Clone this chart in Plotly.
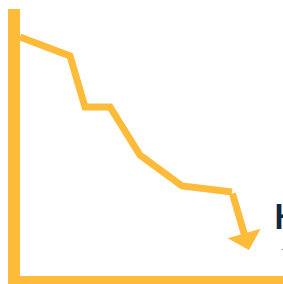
import plotly.graph_objects as go

# Data (chart units: x to the right, y upwards)
x_vals = [20, 70, 85, 110, 140, 182, 232]
y_vals = [247, 228, 177, 177, 129, 98, 92]
arrow_tip = (249, 34)
title_text = "KPI"
sub_text = "Trend"

YELLOW = "#FDBB3A"
NAVY = "#132640"

fig = go.Figure()
fig.add_trace(go.Scatter(x=x_vals, y=y_vals, mode="lines",
                         line=dict(color=YELLOW, width=7),
                         hoverinfo="skip", showlegend=False))

# arrow on final segment
fig.add_annotation(x=arrow_tip[0], y=arrow_tip[1], ax=x_vals[-1], ay=y_vals[-1],
                   xref="x", yref="y", axref="x", ayref="y",
                   showarrow=True, arrowhead=1, arrowsize=0.82, arrowwidth=7,
                   arrowcolor=YELLOW, text="", standoff=0, startstandoff=0)

# axes (L-shape)
fig.add_shape(type="rect", x0=8, x1=20, y0=0, y1=275, xref="x", yref="y",
              fillcolor=YELLOW, line_width=0)
fig.add_shape(type="rect", x0=8, x1=300, y0=-5, y1=8, xref="x", yref="y",
              fillcolor=YELLOW, line_width=0)

fig.add_annotation(x=272, y=69, xref="x", yref="y", text=f"<b>{title_text}</b>",
                   showarrow=False, xanchor="left", yanchor="middle",
                   font=dict(family="Lato", size=34, color=NAVY))
fig.add_annotation(x=280, y=32, xref="x", yref="y", text=sub_text,
                   showarrow=False, xanchor="left", yanchor="middle",
                   font=dict(family="Lato", size=9, color=NAVY))

fig.update_xaxes(range=[0, 283], visible=False, fixedrange=True)
fig.update_yaxes(range=[0, 284], visible=False, fixedrange=True)
fig.update_layout(width=283, height=284, margin=dict(l=0, r=0, t=0, b=0),
                  plot_bgcolor="white", paper_bgcolor="white")

fig.write_html("out.html", config={"displayModeBar": False},
               post_script="document.body.style.margin='0';document.body.style.overflow='hidden';")
